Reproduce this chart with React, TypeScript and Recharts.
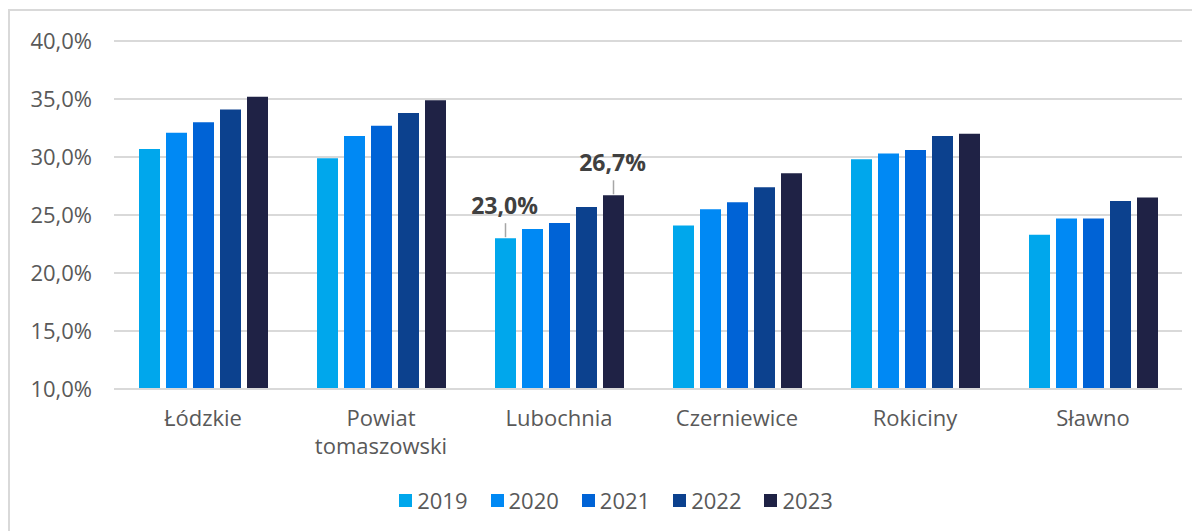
import React from "react";
import { BarChart, Bar, XAxis, YAxis, CartesianGrid, Legend, LabelList } from "recharts";

const categories = ["Łódzkie", "Powiat tomaszowski", "Lubochnia", "Czerniewice", "Rokiciny", "Sławno"];
const years = ["2019", "2020", "2021", "2022", "2023"];
const v2019 = [30.7, 29.9, 23.0, 24.1, 29.8, 23.3];
const v2020 = [32.1, 31.8, 23.8, 25.5, 30.3, 24.7];
const v2021 = [33.0, 32.7, 24.3, 26.1, 30.6, 24.7];
const v2022 = [34.1, 33.8, 25.7, 27.4, 31.8, 26.2];
const v2023 = [35.2, 34.9, 26.7, 28.6, 32.0, 26.5];
const yTicks = [10, 15, 20, 25, 30, 35, 40];
// which bars carry a data label: [year, category]
const labelled: [string, string][] = [["2019", "Lubochnia"], ["2023", "Lubochnia"]];

const colors = ["#00A7EC", "#0089F4", "#0063D6", "#0C418E", "#1F2245"];
const seriesValues = [v2019, v2020, v2021, v2022, v2023];

const data = categories.map((c, i) => {
  const row: Record<string, any> = { name: c };
  years.forEach((y, k) => (row["y" + y] = seriesValues[k][i]));
  return row;
});

const FONT = "'Open Sans', 'Noto Sans', sans-serif";
const fmt = (v: number) => v.toFixed(1).replace(".", ",") + "%";

const XTick = (props: any) => {
  const { x, y, payload } = props;
  const words = String(payload.value).split(" ");
  return (
    <g>
      {words.map((w: string, i: number) => (
        <text key={i} x={x} y={y + 29 + i * 28} textAnchor="middle" fill="#595959" fontSize={22} fontFamily={FONT}>
          {w}
        </text>
      ))}
    </g>
  );
};

const makeLabel = (year: string) => (props: any) => {
  const { x, y, width, value, index } = props;
  const cat = categories[index];
  if (!labelled.some(([yy, cc]) => yy === year && cc === cat)) return null;
  const cx = x + width / 2;
  return (
    <g>
      <line x1={cx} x2={cx} y1={y - 1} y2={y - 15} stroke="#A6A6A6" strokeWidth={1.5} />
      <text x={cx - 1} y={y - 24} textAnchor="middle" fill="#404040" fontSize={23} fontWeight={700} fontFamily={FONT}>
        {fmt(value)}
      </text>
    </g>
  );
};

const LegendContent = () => (
  <div style={{ display: "flex", justifyContent: "center", paddingLeft: 40, fontFamily: FONT, fontSize: 22, color: "#595959", lineHeight: "26px" }}>
    {years.map((y, k) => (
      <div key={y} style={{ display: "flex", alignItems: "center", marginRight: k < years.length - 1 ? 23 : 0 }}>
        <span style={{ width: 13, height: 13, background: colors[k], display: "inline-block", marginRight: 5 }} />
        <span>{y}</span>
      </div>
    ))}
  </div>
);

export default function App() {
  return (
    <div style={{ width: 1188, height: 521, border: "2px solid #D9D9D9", marginTop: 1, background: "#fff" }}>
      <BarChart
        width={1188}
        height={521}
        data={data}
        margin={{ top: 30, right: 16, bottom: 19, left: 0 }}
        barSize={21}
        barGap={6}
      >
        <CartesianGrid vertical={false} stroke="#D9D9D9" strokeWidth={2} />
        <XAxis
          dataKey="name"
          interval={0}
          tick={<XTick />}
          tickLine={false}
          axisLine={{ stroke: "#D9D9D9", strokeWidth: 2 }}
          height={98}
        />
        <YAxis
          domain={[10, 40]}
          ticks={yTicks}
          tickFormatter={fmt}
          width={104}
          axisLine={false}
          tickLine={false}
          tickSize={0}
          tickMargin={22}
          tick={{ fill: "#595959", fontSize: 22, fontFamily: FONT }}
          allowDataOverflow
        />
        <Legend verticalAlign="bottom" content={<LegendContent />} />
        {years.map((y, k) => (
          <Bar key={y} dataKey={"y" + y} name={y} fill={colors[k]} isAnimationActive={false}>
            <LabelList dataKey={"y" + y} content={makeLabel(y)} />
          </Bar>
        ))}
      </BarChart>
    </div>
  );
}
